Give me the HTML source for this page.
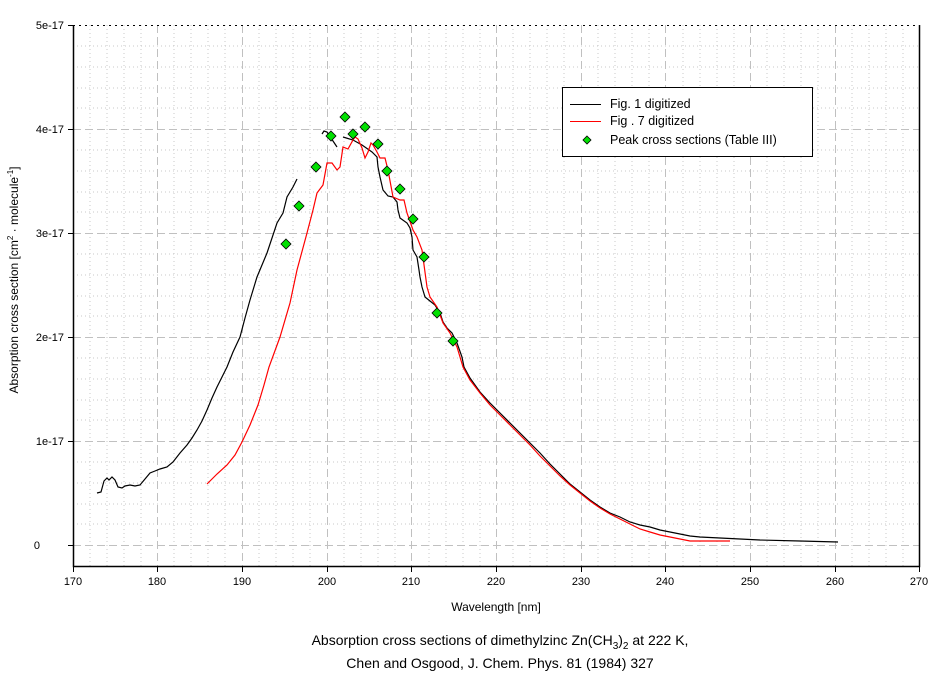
<!DOCTYPE html>
<html><head><meta charset="utf-8"><style>
body{margin:0;background:#fff;}
svg text{font-family:"Liberation Sans",Arial,sans-serif;fill:#000;}
</style></head><body>
<svg width="944" height="676" xmlns="http://www.w3.org/2000/svg">
<rect width="944" height="676" fill="#fff"/>
<g id="grid">
<g stroke="#c8c8c8" stroke-width="1" stroke-dasharray="1,3">
<path d="M90,25V566M107,25V566M124,25V566M141,25V566M174,25V566M191,25V566M208,25V566M225,25V566M259,25V566M276,25V566M293,25V566M310,25V566M344,25V566M361,25V566M378,25V566M395,25V566M429,25V566M446,25V566M463,25V566M480,25V566M513,25V566M530,25V566M547,25V566M564,25V566M598,25V566M615,25V566M632,25V566M649,25V566M683,25V566M700,25V566M717,25V566M734,25V566M767,25V566M784,25V566M801,25V566M818,25V566M852,25V566M869,25V566M886,25V566M903,25V566"/>
<path d="M73,46H919M73,67H919M73,88H919M73,108H919M73,150H919M73,171H919M73,192H919M73,212H919M73,254H919M73,275H919M73,296H919M73,316H919M73,358H919M73,379H919M73,400H919M73,420H919M73,462H919M73,483H919M73,504H919M73,524H919"/>
</g>
<g stroke="#c0c0c0" stroke-width="1" stroke-dasharray="8,4">
<path d="M157.5,25V566M242.5,25V566M327.5,25V566M411.5,25V566M496.5,25V566M581.5,25V566M665.5,25V566M750.5,25V566M835.5,25V566"/>
<path d="M73,129.5H919M73,233.5H919M73,337.5H919M73,441.5H919M73,545.5H919"/>
</g>
</g>
<path d="M73,25.5H919" stroke="#000" stroke-dasharray="2,4"/>
<path d="M73.5,25V566.5H919.5V25" stroke="#000" fill="none" stroke-width="1.5"/>
<g stroke="#000"><path d="M68,25.5H73M68,129.5H73M68,233.5H73M68,337.5H73M68,441.5H73M68,545.5H73"/>
<path d="M73.5,566V572M157.5,566V572M242.5,566V572M327.5,566V572M411.5,566V572M496.5,566V572M581.5,566V572M665.5,566V572M750.5,566V572M835.5,566V572M919.5,566V572"/></g>
<g font-size="11" text-anchor="end">
<text x="64" y="29">5e-17</text><text x="64" y="133">4e-17</text><text x="64" y="237">3e-17</text><text x="64" y="341">2e-17</text><text x="64" y="445">1e-17</text><text x="40" y="549">0</text>
</g>
<g font-size="11" text-anchor="middle">
<text x="73" y="585">170</text><text x="157" y="585">180</text><text x="242" y="585">190</text><text x="327" y="585">200</text><text x="411" y="585">210</text><text x="496" y="585">220</text><text x="581" y="585">230</text><text x="665" y="585">240</text><text x="750" y="585">250</text><text x="835" y="585">260</text><text x="919" y="585">270</text>
</g>
<text x="496" y="611" font-size="12" text-anchor="middle">Wavelength [nm]</text>
<text transform="translate(18,280) rotate(-90)" font-size="12" text-anchor="middle">Absorption cross section [cm<tspan font-size="8" dy="-5">2</tspan><tspan dy="5"> · molecule</tspan><tspan font-size="8" dy="-5">-1</tspan><tspan dy="5">]</tspan></text>
<text x="500" y="645" font-size="14" text-anchor="middle">Absorption cross sections of dimethylzinc Zn(CH<tspan font-size="10" dy="4">3</tspan><tspan dy="-4">)</tspan><tspan font-size="10" dy="4">2</tspan><tspan dy="-4"> at 222 K,</tspan></text>
<text x="500" y="668" font-size="14" text-anchor="middle">Chen and Osgood,  J. Chem. Phys. 81 (1984) 327</text>
<g fill="none" stroke-width="1.2">
<polyline stroke="#000" points="97,493 101,492 104,481 107,478 109,480 112,477 115,480 118,487 122,488 125,486 130,485 135,486 140,485 145,479 150,473 155,471 160,469 167,467 173,462 180,453 187,445 192,438 197,430 202,421 207,410 212,398 217,387 222,377 227,367 233,352 240,337 245,318 250,300 257,277 267,253 277,223 283,213 287,197 293,187 297,179"/>
<polyline stroke="#000" points="322,134 324,131 327,132 337,147"/>
<polyline stroke="#000" points="343,137 353,140 362,145 372,152 377,157 378,167 380,177 383,190 388,196 393,197 397,202 398,210 400,218 407,223 410,228 412,237 413,250 417,257 419,270 420,277 422,287 425,297 430,301 435,305 440,313 443,322 447,328 452,333 457,343 462,357 464,367 470,378 480,392 490,403 500,413 510,423 520,433 530,443 540,453 550,464 560,474 570,484 580,492 590,500 600,507 610,513 620,517 630,522 640,525 650,527 660,530 670,532 680,534 690,536 700,537 720,538 760,540 800,541 838,542"/>
<polyline stroke="#f00" points="207,484 217,474 227,465 235,455 242,442 250,425 258,405 264,385 269,367 280,337 290,303 297,270 307,233 313,210 317,193 323,185 327,163 332,163 337,170 340,167 343,147 348,149 353,140 355,137 358,139 362,148 365,158 368,152 371,143 373,145 377,152 380,158 385,158 388,170 393,197 400,200 404,200 407,213 413,230 417,237 422,250 427,287 430,297 437,307 443,323 450,333 457,347 463,367 470,380 480,393 490,405 500,415 510,425 520,435 530,445 540,456 550,466 560,476 570,485 580,493 590,501 600,508 610,514 620,519 630,524 640,529 650,532 660,535 670,537 680,539 690,541 700,541 730,541"/>
</g>
<g fill="#00e000" stroke="#000" stroke-width="0.8">
<path d="M0,-5L5,0L0,5L-5,0Z" transform="translate(286,244)"/>
<path d="M0,-5L5,0L0,5L-5,0Z" transform="translate(299,206)"/>
<path d="M0,-5L5,0L0,5L-5,0Z" transform="translate(316,167)"/>
<path d="M0,-5L5,0L0,5L-5,0Z" transform="translate(331,136)"/>
<path d="M0,-5L5,0L0,5L-5,0Z" transform="translate(345,117)"/>
<path d="M0,-5L5,0L0,5L-5,0Z" transform="translate(353,134)"/>
<path d="M0,-5L5,0L0,5L-5,0Z" transform="translate(365,127)"/>
<path d="M0,-5L5,0L0,5L-5,0Z" transform="translate(378,144)"/>
<path d="M0,-5L5,0L0,5L-5,0Z" transform="translate(387,171)"/>
<path d="M0,-5L5,0L0,5L-5,0Z" transform="translate(400,189)"/>
<path d="M0,-5L5,0L0,5L-5,0Z" transform="translate(413,219)"/>
<path d="M0,-5L5,0L0,5L-5,0Z" transform="translate(424,257)"/>
<path d="M0,-5L5,0L0,5L-5,0Z" transform="translate(437,313)"/>
<path d="M0,-5L5,0L0,5L-5,0Z" transform="translate(453,341)"/>
</g>
<rect x="562.5" y="87.5" width="250" height="69" fill="#fff" stroke="#000" stroke-width="1"/>
<path d="M570,104.5H601" stroke="#000"/>
<path d="M570,121.5H601" stroke="#f00"/>
<path d="M0,-4L4,0L0,4L-4,0Z" transform="translate(587,140)" fill="#00e000" stroke="#000" stroke-width="0.8"/>
<g font-size="12.5">
<text x="610" y="108">Fig. 1 digitized</text>
<text x="610" y="125">Fig . 7 digitized</text>
<text x="610" y="144">Peak cross sections (Table III)</text>
</g>
</svg>
</body></html>
